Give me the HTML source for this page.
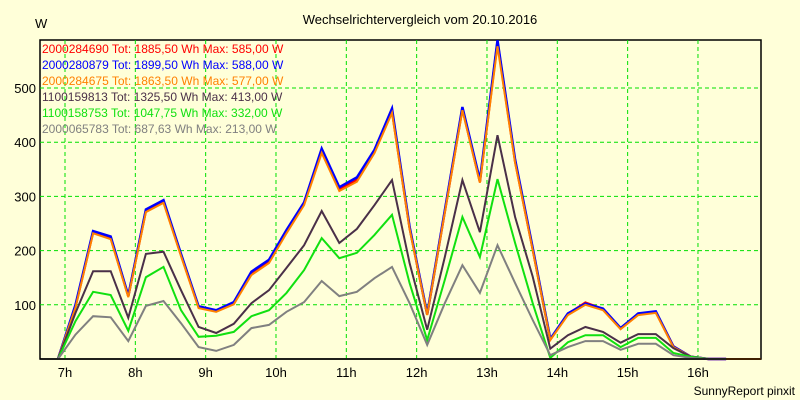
<!DOCTYPE html>
<html><head><meta charset="utf-8"><style>
html,body{margin:0;padding:0;background:#ffffd9;}
svg{display:block;font-family:"Liberation Sans",Arial,sans-serif;}
</style></head><body>
<svg id="chart" width="800" height="400">
<rect width="800" height="400" fill="#ffffd9"/>
<text x="420" y="24" text-anchor="middle" font-size="13" fill="#000">Wechselrichtervergleich vom 20.10.2016</text>
<text x="35" y="28" font-size="13" fill="#000">W</text>
<text x="795" y="395" text-anchor="end" font-size="12" fill="#000">SunnyReport pinxit</text>
<g id="grid"></g><g id="series"></g><g id="axes"></g><g id="legend"></g>
</svg>
<script>
const yTicks=[100,200,300,400,500];
const xTickHours=[7,8,9,10,11,12,13,14,15,16];
const xTickLabels=["7h","8h","9h","10h","11h","12h","13h","14h","15h","16h"];
const startHour=6.9, stepHour=0.25;
const seriesNames=["2000284690 Tot: 1885,50 Wh Max: 585,00 W","2000280879 Tot: 1899,50 Wh Max: 588,00 W","2000284675 Tot: 1863,50 Wh Max: 577,00 W","1100159813 Tot: 1325,50 Wh Max: 413,00 W","1100158753 Tot: 1047,75 Wh Max: 332,00 W","2000065783 Tot: 687,63 Wh Max: 213,00 W"];
const seriesColors=["#ff0000","#0000ff","#ff8000","#4a3048","#10e010","#808080"];
const redValues=[0,97,234,224,116,274,291,192,96,89,103,158,180,236,287,384,313,331,383,458,242,82,272,462,327,585,365,203,36,83,104,92,56,83,87,23,4,0,0,0,0];
const blueValues=[0,100,236,226,117,276,293,194,97,90,105,161,183,238,289,388,317,335,386,462,244,83,274,465,330,588,368,205,37,84,102,93,57,84,88,23,4,0,0,0,0];
const orangeValues=[0,95,232,221,114,271,288,190,94,87,101,155,177,232,284,380,310,327,380,454,240,81,270,459,325,577,362,201,35,81,100,90,55,81,85,22,4,0,0,0,0];
const purpleValues=[0,85,162,162,76,194,198,127,59,48,65,103,127,168,210,273,214,240,284,330,177,54,188,330,234,413,262,152,19,44,59,50,30,46,46,20,4,0,0,0,0];
const greenValues=[0,70,124,118,52,151,170,90,41,43,50,79,90,122,164,223,186,196,229,266,140,35,146,262,188,332,214,103,2,31,44,44,22,39,39,11,4,0,0,0,0];
const grayValues=[0,45,79,77,33,98,107,66,22,15,26,57,63,87,105,144,116,124,149,170,103,26,103,173,122,210,140,72,7,22,33,33,17,28,28,7,2,0,0,0,0];
const allSeries=[redValues,blueValues,orangeValues,purpleValues,greenValues,grayValues];

const L=40,R=761,T=40,B=359;
const xScale=h=>65+(h-7)*70.33;
const yScale=v=>B-v*0.542;
const NS="http://www.w3.org/2000/svg";
function mk(tag,attrs,parent){const e=document.createElementNS(NS,tag);for(const k in attrs)e.setAttribute(k,attrs[k]);parent.appendChild(e);return e;}
const grid=document.getElementById('grid'),axes=document.getElementById('axes'),ser=document.getElementById('series'),leg=document.getElementById('legend');
mk('rect',{x:L,y:T,width:R-L,height:B-T,fill:'#ffffd9',stroke:'#000','stroke-width':1.5},grid);
yTicks.forEach(v=>{
  const y=yScale(v);
  const g=mk('line',{x1:L,x2:R,y1:y,y2:y,stroke:'#00e000','stroke-dasharray':'4,3','stroke-width':1},grid);
  
  
  const t=mk('text',{x:L-4,y:y+5,'text-anchor':'end','font-size':13,fill:'#000'},axes);
  t.textContent=v;
  
  
});
xTickHours.forEach((h,i)=>{
  const x=xScale(h);
  const g=mk('line',{x1:x,x2:x,y1:T,y2:B,stroke:'#00e000','stroke-dasharray':'4,3','stroke-width':1},grid);
  
  
  const t=mk('text',{x:x,y:377,'text-anchor':'middle','font-size':13,fill:'#000'},axes);
  t.textContent=xTickLabels[i];
  
  
});
const widths=[2.5,2.5,2,2,2,2];
allSeries.forEach((vals,s)=>{
  let n=vals.length;
  if(s!==2){while(n>1&&vals[n-1]===0&&vals[n-2]===0)n--; n=Math.min(vals.length,n+1);}
  const pts=[];
  for(let i=0;i<n;i++)pts.push(Math.min(xScale(startHour+i*stepHour),R).toFixed(1)+','+yScale(vals[i]).toFixed(1));
  const p=mk('polyline',{points:pts.join(' '),fill:'none',stroke:seriesColors[s],'stroke-width':widths[s],'stroke-linejoin':'miter'},ser);
  
  
});
mk('line',{x1:L,x2:R,y1:B,y2:B,stroke:'#000','stroke-width':1.5},axes);
seriesNames.forEach((nm,s)=>{
  const t=mk('text',{x:42,y:53+s*16,'font-size':12,fill:seriesColors[s]},leg);
  t.textContent=nm;
  
  
});
</script>
</body></html>
